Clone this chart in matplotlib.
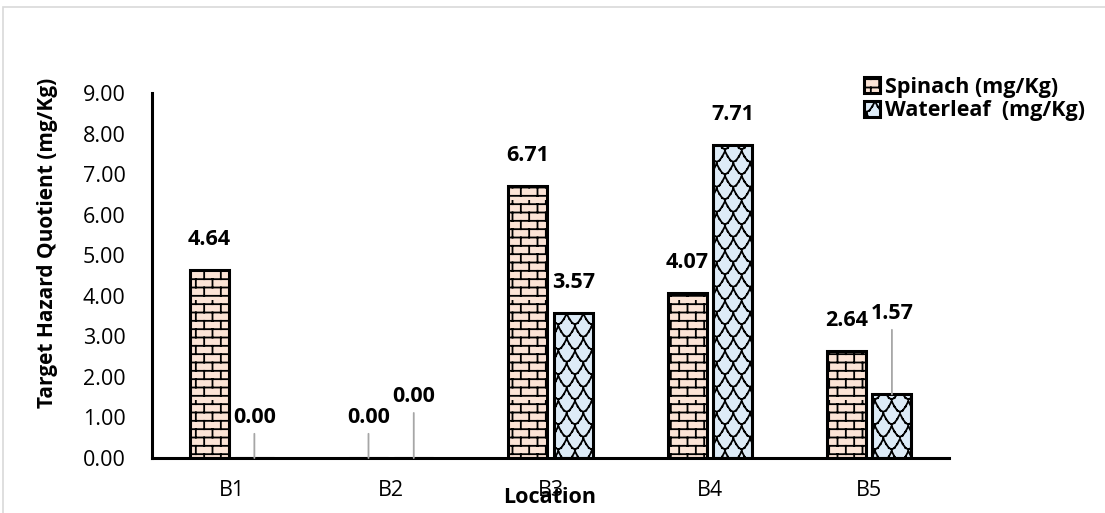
import numpy as np
import matplotlib
matplotlib.use("Agg")
import matplotlib.pyplot as plt
import matplotlib.hatch as mhatch
from matplotlib.path import Path
from matplotlib.patches import Rectangle

# data
locations = ["B1", "B2", "B3", "B4", "B5"]
spinach = [4.64, 0.00, 6.71, 4.07, 2.64]
waterleaf = [0.00, 0.00, 3.57, 7.71, 1.57]
series_names = ["Spinach (mg/Kg)", "Waterleaf  (mg/Kg)"]

# label offsets above bar top (points); larger ones get a leader line
spinach_lbl_off = [22, 29, 22, 22, 22]
waterleaf_lbl_off = [29, 44, 22, 22, 58]


class BrickHatch(mhatch.HatchPatternBase):
    """Brick wall pattern, drawn for '+' in the hatch string."""
    rows, cols = 12, 6

    def __init__(self, hatch, density):
        self.on = '+' in hatch
        self.num_vertices = self.rows * (1 + self.cols) * 2 if self.on else 0

    def set_vertices_and_codes(self, vertices, codes):
        k = 0
        h = 1.0 / self.rows
        w = 1.0 / self.cols
        for i in range(self.rows):
            y0 = (i + 0.5) * h
            vertices[k] = (0.0, y0); codes[k] = Path.MOVETO
            vertices[k + 1] = (1.0, y0); codes[k + 1] = Path.LINETO
            k += 2
            for j in range(self.cols):
                x = (j + 0.25 + 0.5 * (i % 2)) * w
                vertices[k] = (x, y0); codes[k] = Path.MOVETO
                vertices[k + 1] = (x, y0 + h); codes[k + 1] = Path.LINETO
                k += 2


class ShingleHatch(mhatch.HatchPatternBase):
    """Overlapping scale pattern, drawn for 'x' in the hatch string.
    Each arc is split into separate segments so Agg doesn't fill it."""
    rows, cols, npts = 8, 6, 7

    def __init__(self, hatch, density):
        self.on = 'x' in hatch
        n_arcs = (self.rows // 2) * self.cols + (self.rows // 2) * (self.cols + 1)
        self.num_vertices = n_arcs * (self.npts - 1) * 2 if self.on else 0

    def set_vertices_and_codes(self, vertices, codes):
        k = 0
        h = 1.0 / self.rows
        w = 1.0 / self.cols
        t = np.linspace(0, 1, self.npts)
        for i in range(self.rows):
            ytop = (i + 0.9) * h
            js = range(self.cols) if i % 2 == 0 else range(-1, self.cols)
            for j in js:
                x0 = (j + 0.5 * (i % 2)) * w
                xs = x0 + w * t
                ys = ytop - 0.85 * h * np.sin(np.pi * t)
                for p in range(self.npts - 1):
                    vertices[k] = (xs[p], ys[p]); codes[k] = Path.MOVETO
                    vertices[k + 1] = (xs[p + 1], ys[p + 1])
                    codes[k + 1] = Path.LINETO
                    k += 2


mhatch._hatch_types = [BrickHatch, ShingleHatch]

plt.rcParams['font.family'] = ['Open Sans', 'DejaVu Sans']
plt.rcParams['hatch.linewidth'] = 1.3

fig = plt.figure(figsize=(11.05, 5.13), dpi=100)
ax = fig.add_axes([0.1376, 0.1072, 0.7212, 0.7115])

x = np.arange(len(locations))
width = 0.245
off = 0.142
b1 = ax.bar(x - off, spinach, width, color='#fce4d6', edgecolor='black',
            linewidth=2.2, hatch='+', label=series_names[0])
b2 = ax.bar(x + off, waterleaf, width, color='#ddebf7', edgecolor='black',
            linewidth=2.2, hatch='x', label=series_names[1])

for xs, vals, offs in [(x - off, spinach, spinach_lbl_off),
                       (x + off, waterleaf, waterleaf_lbl_off)]:
    for xi, v, o in zip(xs, vals, offs):
        arrow = None
        if o > 25:
            arrow = dict(arrowstyle='-', color='#a6a6a6', lw=1.3,
                         shrinkA=2, shrinkB=0)
        ax.annotate(f"{v:.2f}", xy=(xi, v), xytext=(0, o),
                    textcoords='offset points', ha='center', va='center',
                    fontsize=15.5, fontweight='bold', arrowprops=arrow)

ax.set_xlim(-0.5, len(locations) - 0.5)
ax.set_ylim(0, 9)
ax.set_yticks(np.arange(0, 9.5, 1.0))
ax.set_yticklabels([f"{v:.2f}" for v in np.arange(0, 9.5, 1.0)])
ax.set_xticks(x)
ax.set_xticklabels(locations)
ax.tick_params(axis='both', length=0, labelsize=15.5)
ax.tick_params(axis='y', pad=19)
ax.tick_params(axis='x', pad=16)

for s in ['top', 'right']:
    ax.spines[s].set_visible(False)
for s in ['left', 'bottom']:
    ax.spines[s].set_linewidth(2.2)

ax.set_ylabel("Target Hazard Quotient (mg/Kg)", fontsize=15, fontweight='bold')
ax.yaxis.set_label_coords(-0.118, 0.589)
ax.set_xlabel("Location", fontsize=15.5, fontweight='bold')
ax.xaxis.set_label_coords(0.4994, -0.08)

ax.legend(loc='upper left', bbox_to_anchor=(853 / 1105, 1 - 66 / 513),
          bbox_transform=fig.transFigure, frameon=False, borderpad=0,
          handlelength=0.75, handleheight=0.75, handletextpad=0.25,
          labelspacing=0.12, prop={'weight': 'bold', 'size': 15.5})

# thin outer border of the chart area
fig.patches.append(Rectangle((3 / 1105, -0.1), 1.2, 1.1 - 7 / 513,
                             transform=fig.transFigure, fill=False,
                             edgecolor='#d9d9d9', linewidth=1.2))

fig.savefig("out.png", dpi=100)
